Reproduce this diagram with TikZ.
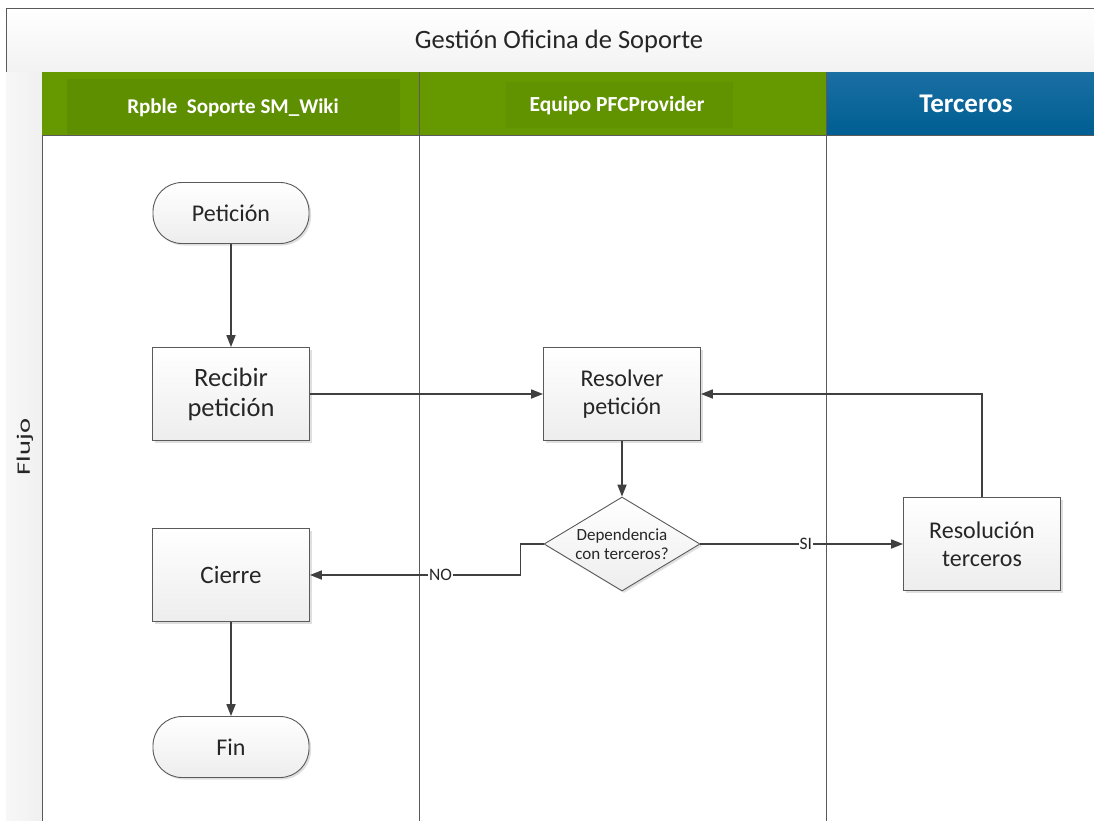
\documentclass[tikz,border=0pt]{standalone}
\usepackage{fontspec}
\setmainfont{Carlito}
\usetikzlibrary{shapes.geometric,shadows,arrows.meta}
\definecolor{lanegreen}{HTML}{669900}
\definecolor{lanegreenin}{HTML}{5E8F00}
\definecolor{laneblue}{HTML}{005E92}
\definecolor{laneblueTop}{HTML}{1A6FA3}
\definecolor{edgegray}{HTML}{5A5A5A}
\definecolor{linegray}{HTML}{404040}
\tikzset{
  shapebase/.style={draw=edgegray, line width=0.9pt, top color=white, bottom color=gray!14,
    drop shadow={shadow xshift=2pt, shadow yshift=-2pt, opacity=0.25}, align=center, text=black!85},
  procbox/.style={shapebase, rectangle, minimum width=157pt, minimum height=93pt},
  termbox/.style={shapebase, rectangle, rounded corners=29pt, minimum width=156pt, minimum height=61pt, font=\fontsize{24}{26}\selectfont},
  decbox/.style={shapebase, diamond, minimum width=156pt, minimum height=94pt, aspect=1.66, inner sep=0pt, font=\fontsize{17}{19}\selectfont},
  conn/.style={draw=linegray, line width=1.7pt, -{Triangle[length=12pt,width=9pt]}},
  flowlabel/.style={fill=white, inner sep=1pt, font=\fontsize{17.5}{18}\selectfont, text=black!85},
  lanehead/.style={text=white, font=\bfseries\fontsize{21}{23}\selectfont},
  laneline/.style={draw=edgegray, line width=0.9pt}
}
\begin{document}
\begin{tikzpicture}[x=1pt,y=-1pt]
\useasboundingbox (0,0) rectangle (1094,820);
\clip (0,0) rectangle (1094,820);
\fill[white] (0,0) rectangle (1094,820);
% title band
\shade[top color=white, bottom color=gray!10] (6,8) rectangle (1100,72);
\draw[laneline] (6,830) -- (6,8) -- (1100,8);
\draw[laneline] (6,72) -- (1100,72);
\node[font=\fontsize{26.5}{28}\selectfont, text=black!85] (title) at (559,41) {Gestión Oficina de Soporte};
% left strip
\shade[left color=gray!6, right color=gray!12] (6,72) rectangle (42,830);
\draw[laneline] (42,72) -- (42,830);
\node[rotate=90, font=\fontsize{19}{21}\selectfont, text=black!85] (flujo) at (25,447) {\scalebox{1.5}[1]{Flujo}};
% lane headers
\fill[lanegreen] (42,72) rectangle (419,135);
\fill[lanegreenin] (67,79) rectangle (400,134);
\fill[lanegreen] (419,72) rectangle (826,135);
\fill[lanegreenin!60!lanegreen] (506,82) rectangle (733,128);
\shade[top color=laneblueTop, bottom color=laneblue] (826,72) rectangle (1100,135);
\draw[laneline] (42,135) -- (1100,135);
\draw[laneline] (419,72) -- (419,830);
\draw[laneline] (826,72) -- (826,830);
\node[lanehead] (h1) at (233,108) {Rpble\ \ Soporte SM\_Wiki};
\node[lanehead, font=\bfseries\fontsize{21.5}{23}\selectfont] (h2) at (617,106) {Equipo PFCProvider};
\node[text=white, font=\bfseries\fontsize{27}{29}\selectfont] (h3) at (966,104) {Terceros};
% nodes
\node[termbox] (pet) at (231,213) {Petición};
\node[procbox, font=\fontsize{26.5}{30}\selectfont] (rec) at (231,394) {Recibir\\petición};
\node[procbox, font=\fontsize{24}{28}\selectfont] (res) at (622,394) {Resolver\\petición};
\node[decbox] (dec) at (622,544) {Dependencia\\con terceros?};
\node[procbox, font=\fontsize{24}{28}\selectfont] (ter) at (982,544) {Resolución\\terceros};
\node[procbox, font=\fontsize{25}{28}\selectfont] (cie) at (231,575) {Cierre};
\node[termbox] (fin) at (231,747) {Fin};
% connectors
\draw[conn] (pet) -- (rec);
\draw[conn] (rec) -- (res);
\draw[conn] (res) -- (dec);
\draw[conn] (dec.east) -- node[flowlabel, pos=0.52] (si) {SI} (ter.west);
\draw[conn] (ter.north) |- (res.east);
\draw[conn] (dec.west) -- ++(-23,0) |- node[flowlabel, pos=0.69] (no) {NO} (cie.east);
\draw[conn] (cie) -- (fin);
\end{tikzpicture}
\end{document}
